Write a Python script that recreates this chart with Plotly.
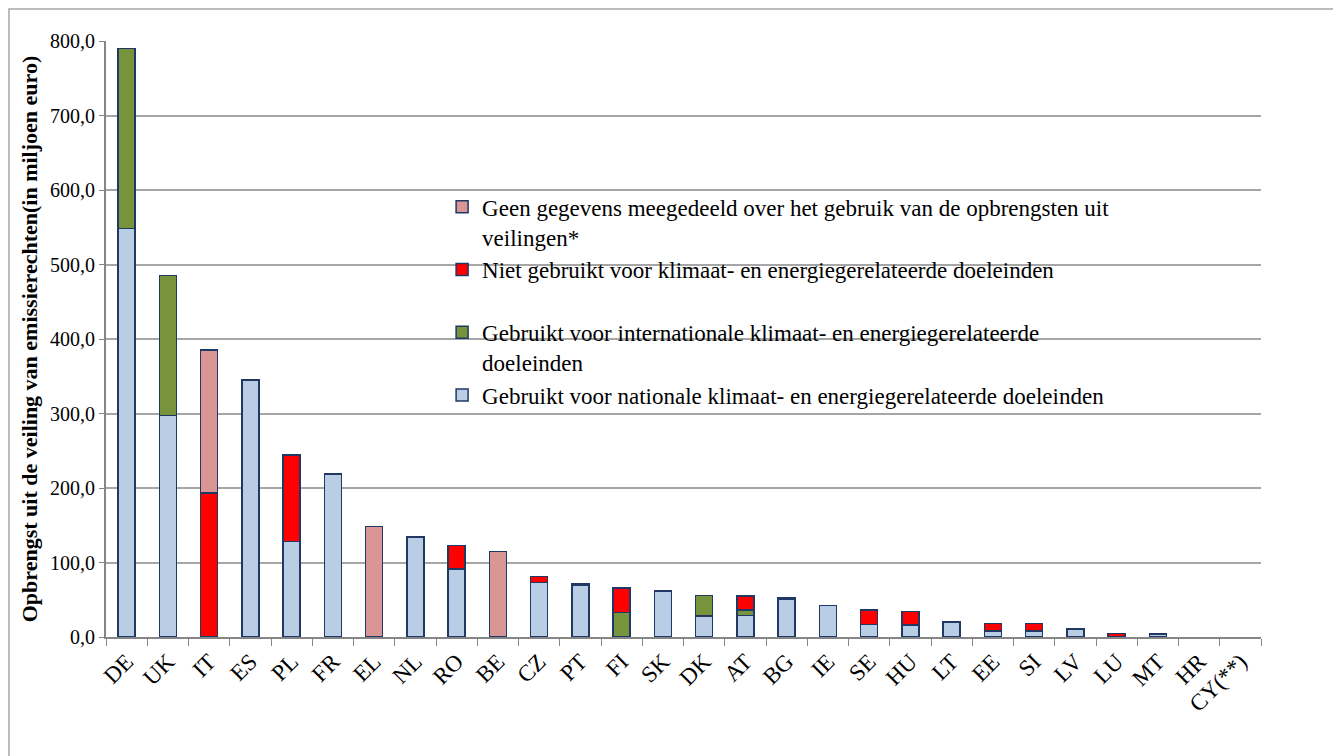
import plotly.graph_objects as go

countries = ["DE", "UK", "IT", "ES", "PL", "FR", "EL", "NL", "RO", "BE", "CZ", "PT", "FI", "SK",
             "DK", "AT", "BG", "IE", "SE", "HU", "LT", "EE", "SI", "LV", "LU", "MT", "HR", "CY(**)"]

national = [548, 297, 0, 345, 128, 219, 0, 134, 91, 0, 73, 70, 0, 62,
            28, 29, 51, 42, 17, 16, 20, 8, 8, 11, 1, 4, 0, 0]
international = [242, 188, 0, 0, 0, 0, 0, 0, 0, 0, 0, 2, 33, 0,
                 28, 7, 2, 0, 0, 0, 0, 0, 0, 0, 0, 0, 0, 0]
not_used = [0, 0, 193, 0, 116, 0, 0, 0, 32, 0, 8, 0, 33, 0,
            0, 19, 0, 0, 19, 18, 0, 10, 10, 0, 3.5, 0, 0, 0]
no_data = [0, 0, 192, 0, 0, 0, 148, 0, 0, 115, 0, 0, 0, 0,
           0, 0, 0, 0, 0, 0, 0, 0, 0, 0, 0, 0, 0, 0]

names = [
    "Gebruikt voor nationale klimaat- en energiegerelateerde doeleinden",
    "Gebruikt voor internationale klimaat- en energiegerelateerde<br>doeleinden",
    "Niet gebruikt voor klimaat- en energiegerelateerde doeleinden<br> ",
    "Geen gegevens meegedeeld over het gebruik van de opbrengsten uit<br>veilingen*",
]
colors = ["#B9CDE5", "#77933C", "#FF0000", "#D99694"]
series = [national, international, not_used, no_data]

SERIF = "Liberation Serif, Times New Roman, serif"

W, H = 1330, 760
L, T = 98, 33
PW, PH = 1155, 596
R = W - L - PW
B = H - T - PH

fig = go.Figure()
for name, vals, col in zip(names, series, colors):
    fig.add_trace(go.Bar(
        x=countries, y=[v if v else None for v in vals], name=name,
        marker=dict(color=col, line=dict(color="#1F3864", width=1.5)),
    ))

fig.update_layout(
    barmode="stack",
    bargap=0.59,
    width=W, height=H,
    paper_bgcolor="white", plot_bgcolor="white",
    separators=",.",
    font=dict(family=SERIF, color="black"),
    margin=dict(l=L, r=R, t=T, b=B),
    showlegend=True,
    legend=dict(
        x=0.291, y=0.758, xanchor="left", yanchor="top",
        traceorder="reversed", valign="top",
        font=dict(size=23, family=SERIF),
        bgcolor="rgba(0,0,0,0)", itemwidth=30, tracegroupgap=0,
    ),
    shapes=[dict(type="rect", xref="paper", yref="paper",
                 x0=(1 - L) / PW, x1=(W - 1 - L) / PW,
                 y0=(T + PH - (H - 1)) / PH, y1=(T + PH - 1) / PH,
                 line=dict(color="#A6A6A6", width=1.5), fillcolor="rgba(0,0,0,0)", layer="below")],
)

fig.update_yaxes(
    range=[0, 800], dtick=100, tickformat=".1f", automargin=False,
    showgrid=True, gridcolor="#A6A6A6", gridwidth=1.5,
    showline=True, linecolor="#868686", linewidth=2,
    ticks="outside", ticklen=5, tickcolor="#868686",
    zeroline=False,
    tickfont=dict(size=20, family=SERIF),
    title=dict(text="Opbrengst uit de veiling van emissierechten(in miljoen euro)",
               font=dict(size=22, family=SERIF, weight="bold"), standoff=6),
)
fig.update_xaxes(
    tickangle=-45, tickson="boundaries", automargin=False,
    showline=True, linecolor="#868686", linewidth=2,
    ticks="outside", ticklen=7, tickcolor="#868686",
    tickfont=dict(size=23, family=SERIF),
)

fig.write_html("out.html")
